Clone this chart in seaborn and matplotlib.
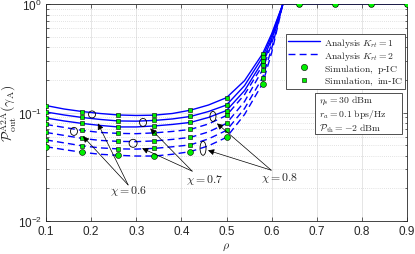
import matplotlib
matplotlib.use("Agg")
import matplotlib.pyplot as plt
import matplotlib.transforms as mtransforms
from matplotlib.lines import Line2D
from matplotlib.patches import Ellipse, Rectangle
import seaborn as sns

# ---- data ------------------------------------------------------------
rho = [0.10, 0.14, 0.18, 0.22, 0.26, 0.30, 0.34, 0.38, 0.42, 0.46,
       0.50, 0.54, 0.58, 0.60, 0.625, 0.90]

# analysis, K_rt = 1 (solid)
k1_a = [0.1159, 0.1077, 0.1021, 0.0979, 0.0949, 0.0939, 0.0945, 0.0979,
        0.1050, 0.1172, 0.1370, 0.1966, 0.348, 0.530, 1.0, 1.0]
k1_b = [0.1011, 0.0949, 0.0900, 0.0863, 0.0836, 0.0832, 0.0845, 0.0872,
        0.0919, 0.1021, 0.1172, 0.1769, 0.324, 0.508, 1.0, 1.0]
k1_c = [0.0890, 0.0836, 0.0793, 0.0760, 0.0736, 0.0736, 0.0752, 0.0776,
        0.0810, 0.0900, 0.1043, 0.1591, 0.296, 0.477, 1.0, 1.0]
# analysis, K_rt = 2 (dashed)
k2_a = [0.0776, 0.0729, 0.0684, 0.0655, 0.0642, 0.0638, 0.0649, 0.0669,
        0.0698, 0.0784, 0.0939, 0.1463, 0.272, 0.458, 1.0, 1.0]
k2_b = [0.0655, 0.0615, 0.0577, 0.0553, 0.0542, 0.0539, 0.0547, 0.0565,
        0.0590, 0.0662, 0.0793, 0.1262, 0.248, 0.430, 1.0, 1.0]
k2_c = [0.0559, 0.0525, 0.0493, 0.0472, 0.0462, 0.0460, 0.0467, 0.0483,
        0.0503, 0.0571, 0.0684, 0.1088, 0.2096, 0.387, 1.0, 1.0]
k2_d = [0.0484, 0.0455, 0.0430, 0.0412, 0.0403, 0.0397, 0.0397, 0.0412,
        0.0436, 0.0493, 0.0590, 0.0959, 0.1845, 0.355, 1.0, 1.0]

# simulation points (every 0.08), taken on the curves above
sim_rho = [0.10, 0.18, 0.26, 0.34, 0.42, 0.50, 0.58, 0.66, 0.74, 0.82, 0.90]
sim_idx = [0, 2, 4, 6, 8, 10, 12]

chi_labels = ["0.6", "0.7", "0.8"]

# ---- style --------------------------------------------------------------
sns.set_style("ticks")
plt.rcParams["font.family"] = ["Liberation Sans", "DejaVu Sans"]
plt.rcParams["mathtext.fontset"] = "cm"

BLUE = "#0000ff"
GREEN = "#00ee00"

fig = plt.figure(figsize=(4.15, 2.55), dpi=100)
ax = fig.add_axes([46 / 415, 1 - 222 / 255, 361 / 415, 217 / 255])

solid = [k1_a, k1_b, k1_c]
dashed = [k2_a, k2_b, k2_c, k2_d]
for c in solid:
    sns.lineplot(x=rho, y=c, ax=ax, color=BLUE, lw=1.0, zorder=2)
for c in dashed:
    sns.lineplot(x=rho, y=c, ax=ax, color=BLUE, lw=1.0,
                 linestyle=(0, (5, 3)), zorder=2)

for c in solid + dashed[:-1]:
    vals = [c[i] for i in sim_idx] + [1.0] * 4
    sns.scatterplot(x=sim_rho, y=vals, ax=ax, marker="s", s=9,
                    color=GREEN, edgecolor="k", linewidth=0.4, zorder=3)
vals = [k2_d[i] for i in sim_idx] + [1.0] * 4
sns.scatterplot(x=sim_rho, y=vals, ax=ax, marker="o", s=18,
                color=GREEN, edgecolor="k", linewidth=0.4, zorder=4)

ax.set_yscale("log")
ax.set_xlim(0.1, 0.9)
ax.set_ylim(1e-2, 1)
ax.set_xticks([0.1, 0.2, 0.3, 0.4, 0.5, 0.6, 0.7, 0.8, 0.9])
ax.set_xticklabels(["0.1", "0.2", "0.3", "0.4", "0.5", "0.6", "0.7", "0.8", "0.9"])
ax.tick_params(which="both", direction="in", top=True, right=True,
               labelsize=8.5, pad=3, color="#262626")
ax.tick_params(which="major", length=3, width=0.5)
ax.tick_params(which="minor", length=1.8, width=0.5)
for s in ax.spines.values():
    s.set_linewidth(0.6)
    s.set_color("#262626")

ax.grid(True, which="major", color="#e0e0e0", lw=0.6, ls="-")
ax.grid(True, which="minor", axis="y", color="#c8c8c8", lw=0.5, ls=(0, (1, 2)))
ax.set_axisbelow(True)

ax.set_xlabel(r"$\rho$", fontsize=8.5, labelpad=2)
ax.set_ylabel(r"$\mathcal{P}^{\rm A2A}_{\rm out}(\gamma_{\rm A})$", fontsize=10, labelpad=0)

# legend
handles = [
    Line2D([], [], color=BLUE, lw=1.0),
    Line2D([], [], color=BLUE, lw=1.0, ls=(0, (5, 3))),
    Line2D([], [], ls="none", marker="o", ms=4.5, mfc=GREEN, mec="k", mew=0.4),
    Line2D([], [], ls="none", marker="s", ms=3.2, mfc=GREEN, mec="k", mew=0.4),
]
labels = [r"$\mathrm{Analysis}\ K_{rt}=1$", r"$\mathrm{Analysis}\ K_{rt}=2$",
          r"$\mathrm{Simulation,\ p}$-$\mathrm{IC}$",
          r"$\mathrm{Simulation,\ im}$-$\mathrm{IC}$"]
leg = ax.legend(handles, labels, loc="upper right", bbox_to_anchor=(0.994, 0.862),
                borderaxespad=0, fontsize=7, handlelength=3.3, handletextpad=0.4,
                labelspacing=0.0, borderpad=0.2, fancybox=False, framealpha=1)
leg.get_frame().set_edgecolor("#333333")
leg.get_frame().set_linewidth(0.6)

# parameter box
ax.add_patch(Rectangle((0.745, 0.401), 0.241, 0.19, transform=ax.transAxes,
                       fc="white", ec="#333333", lw=0.6, zorder=5))
for i, t in enumerate([r"$\eta_s = 30\ \mathrm{dBm}$",
                       r"$r_a = 0.1\ \mathrm{bps/Hz}$",
                       r"$\mathcal{P}_{\rm th} = -2\ \mathrm{dBm}$"]):
    ax.text(0.755, 0.558 - i * 0.064, t, transform=ax.transAxes, fontsize=7,
            va="center", ha="left", zorder=6)

# ellipses and arrows for chi
def ellipse(x, y, w, h):
    tr = fig.dpi_scale_trans + mtransforms.ScaledTranslation(x, y, ax.transData)
    ax.add_patch(Ellipse((0, 0), w / 100, h / 100, transform=tr, fill=False,
                         ec="k", lw=0.6, zorder=6))

ellipses = [
    [(0.202, 0.096, 7, 7), (0.162, 0.067, 7, 8)],
    [(0.315, 0.081, 7, 8), (0.293, 0.052, 8, 8)],
    [(0.470, 0.092, 6, 10), (0.448, 0.0468, 6, 14)],
]
heads = [
    [(0.215, 0.0793), (0.182, 0.0603)],
    [(0.331, 0.0713), (0.313, 0.0468)],
    [(0.479, 0.0793), (0.459, 0.0448)],
]
starts = [(0.282, 0.0215), (0.424, 0.0288), (0.599, 0.0294)]
text_pos = [(0.282, 0.0192), (0.4525, 0.0243), (0.617, 0.0253)]

for lab, els, hds, st, tp in zip(chi_labels, ellipses, heads, starts, text_pos):
    for e in els:
        ellipse(*e)
    for h in hds:
        ax.annotate("", xy=h, xytext=st,
                    arrowprops=dict(arrowstyle="-|>", lw=0.5, color="k",
                                    mutation_scale=9, shrinkA=0, shrinkB=0),
                    zorder=7)
    ax.text(tp[0], tp[1], r"$\chi = %s$" % lab, fontsize=8.5, ha="center",
            va="center", zorder=7)

fig.savefig("out.png", dpi=100)
